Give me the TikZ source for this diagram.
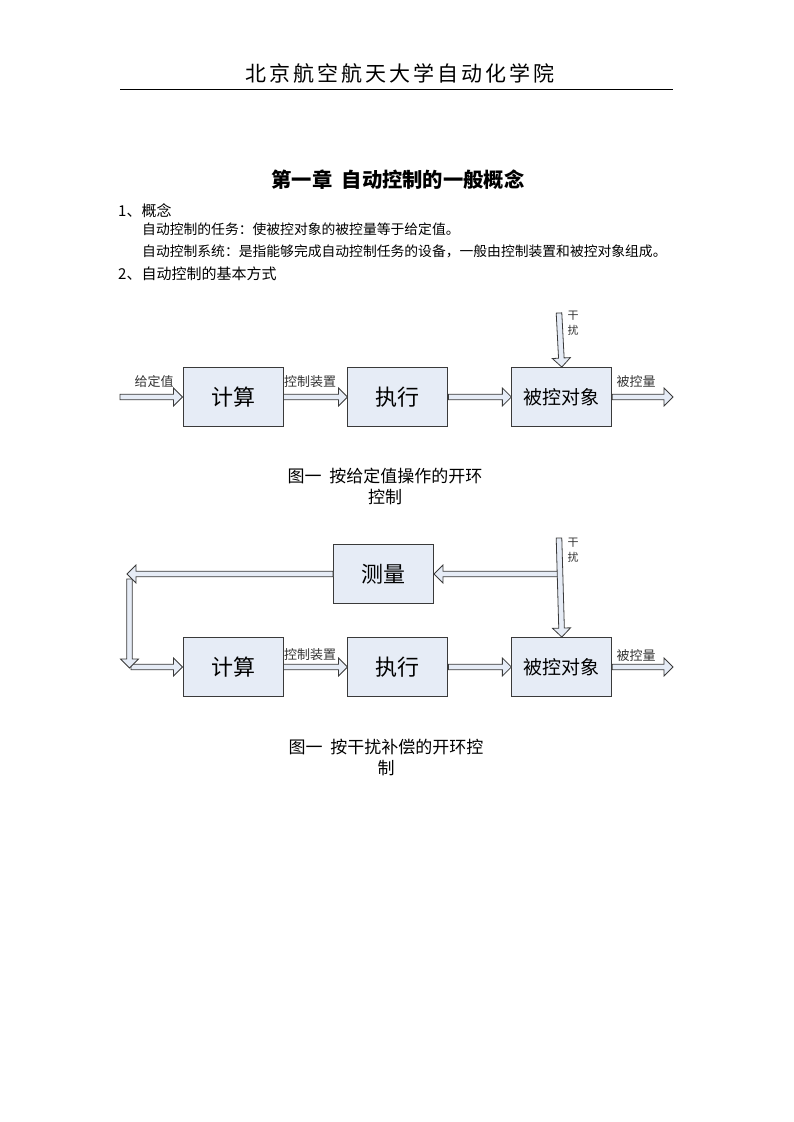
\documentclass[tikz,border=0pt]{standalone}
\usepackage{fontspec}
\setmainfont{Noto Sans CJK SC}
\usepackage{tikz}
\usetikzlibrary{arrows,positioning,shapes,calc}
\definecolor{boxfill}{HTML}{E6ECF6}
\definecolor{edge}{HTML}{3A3A3A}
\newcommand{\fs}[1]{\fontsize{#1}{#1}\selectfont}
% hollow block arrow from #1 to #2
\newcommand{\hollowarrow}[2]{%
  \draw[hollow] let \p1=(#1), \p2=(#2), \n1={atan2(\y2-\y1,\x2-\x1)},
      \p3=($(\p2)!9pt!(\p1)$) in
    ($(\p1)+(\n1+90:2.8pt)$) -- ($(\p3)+(\n1+90:2.8pt)$) -- ($(\p3)+(\n1+90:9pt)$)
    -- (\p2) -- ($(\p3)+(\n1-90:9pt)$) -- ($(\p3)+(\n1-90:2.8pt)$)
    -- ($(\p1)+(\n1-90:2.8pt)$) -- cycle;}
\tikzset{
    %Define style for boxes
    blockbox/.style={
   	rectangle,
   	draw=edge, line width=0.9pt,
   	minimum width=100pt,
   	minimum height=59pt,
   	inner sep=0pt,
   	font=\fs{22},
   	fill=boxfill
   },
    % Define arrow style
    hollow/.style={
        draw=edge,
        line width=0.8pt,
        fill=boxfill,
        line join=miter},
    lbl/.style={font=\fs{13}, inner sep=0pt, text=black!80},
    gan/.style={font=\fontsize{11}{15}\selectfont, inner sep=0pt, align=center, text=black!80},
    caption/.style={font=\fontsize{17}{21}\selectfont, inner sep=0pt, align=center}
}
\begin{document}
\begin{tikzpicture}[x=1pt,y=-1pt,node distance=64pt]
		\useasboundingbox (0,0) rectangle (793,1122);
		% page head
		\node[font=\fs{21}\addfontfeatures{LetterSpace=14}, inner sep=0pt] (head) at (400,73) {北京航空航天大学自动化学院};
		\draw[line width=0.9pt] (120,89) coordinate (hl) -- (673,89) coordinate (hr);
		\node[font=\fs{20.3}\bfseries, inner sep=0pt] (title) at (398,180) {第一章\ \ 自动控制的一般概念};
		\node[font=\fs{15}, inner sep=0pt, anchor=west] (sec1) at (118,211) {1、概念};
		\node[font=\fs{13.8}, inner sep=0pt, anchor=west] (t1) at (142,229) {自动控制的任务：使被控对象的被控量等于给定值。};
		\node[font=\fs{13.8}, inner sep=0pt, anchor=west] (t2) at (142,251) {自动控制系统：是指能够完成自动控制任务的设备，一般由控制装置和被控对象组成。};
		\node[font=\fs{15}, inner sep=0pt, anchor=west] (sec2) at (118,274) {2、自动控制的基本方式};

		% open loop, set value
		\node[blockbox] (calc1) at (233,397) {计算};
		\node[blockbox, right=of calc1] (exec1) {执行};
		\node[blockbox, right=of exec1, xshift=-1pt, font=\fs{19}] (plant1) {被控对象};
		\coordinate (in1) at (120,397);
		\coordinate (out1) at (673,397);
		\coordinate (dist1) at (559,313);
		\hollowarrow{in1}{calc1.west}
		\hollowarrow{calc1.east}{exec1.west}
		\hollowarrow{exec1.east}{plant1.west}
		\hollowarrow{plant1.east}{out1}
		\hollowarrow{dist1}{plant1.north}
		\node[lbl] (l1) at (154,382) {给定值};
		\node[lbl] (l2) at (310,382) {控制装置};
		\node[lbl] (l3) at (636,382) {被控量};
		\node[gan] (g1) at (573,323) {干\\扰};
		\node[caption] (cap1) at (385,486) {图一\ \ 按给定值操作的开环\\控制};

		% open loop, disturbance
		\node[blockbox] (meas2) at (383.5,574) {测量};
		\node[blockbox] (calc2) at (233,667) {计算};
		\node[blockbox, right=of calc2] (exec2) {执行};
		\node[blockbox, right=of exec2, xshift=-1pt, font=\fs{19}] (plant2) {被控对象};
		\coordinate (out2) at (673,667);
		\coordinate (dist2) at (559,538);
		\coordinate (br2) at (559,574);
		\coordinate (fb1) at (127,574);
		\coordinate (fb2) at (129.5,579);
		\coordinate (fb3) at (129.5,668);
		\coordinate (fb4) at (131,667);
		\hollowarrow{br2}{meas2.east}
		\hollowarrow{dist2}{plant2.north}
		\hollowarrow{fb4}{calc2.west}
		\hollowarrow{fb2}{fb3}
		\hollowarrow{meas2.west}{fb1}
		\hollowarrow{calc2.east}{exec2.west}
		\hollowarrow{exec2.east}{plant2.west}
		\hollowarrow{plant2.east}{out2}
		\node[lbl] (l4) at (310,655) {控制装置};
		\node[lbl] (l5) at (636,656) {被控量};
		\node[gan] (g2) at (573,550) {干\\扰};
		\node[caption] (cap2) at (386,757) {图一\ \ 按干扰补偿的开环控\\制};
\end{tikzpicture}
\end{document}
